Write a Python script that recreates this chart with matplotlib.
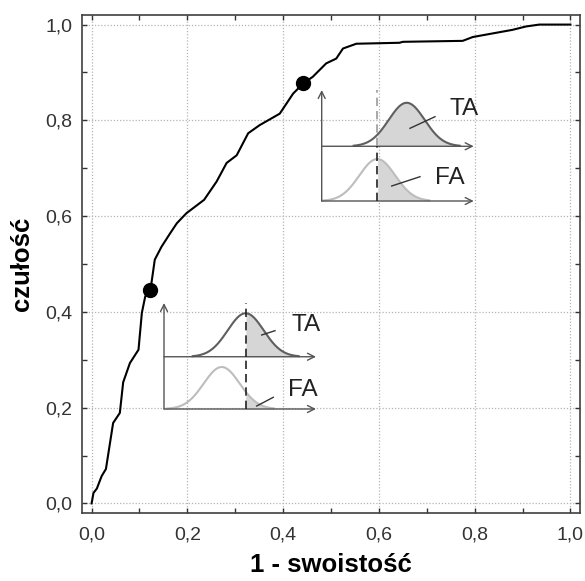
import numpy as np
import matplotlib
matplotlib.use("Agg")
import matplotlib.pyplot as plt
from matplotlib.ticker import MultipleLocator, FuncFormatter

plt.rcParams['font.family'] = ['Liberation Sans', 'DejaVu Sans']

# ROC curve (1 - specificity, sensitivity)
fpr = [0, 0.004, 0.011, 0.021, 0.030, 0.045, 0.059, 0.066, 0.080, 0.098, 0.105, 0.112,
       0.123, 0.132, 0.146, 0.164, 0.178, 0.198, 0.235, 0.261, 0.282, 0.303, 0.327,
       0.351, 0.393, 0.421, 0.442, 0.462, 0.490, 0.511, 0.525, 0.553, 0.643, 0.650,
       0.775, 0.796, 0.879, 0.907, 0.935, 1.0]
tpr = [0, 0.022, 0.031, 0.057, 0.072, 0.168, 0.189, 0.253, 0.293, 0.321, 0.398, 0.432,
       0.446, 0.509, 0.536, 0.564, 0.585, 0.606, 0.634, 0.672, 0.711, 0.727, 0.773,
       0.790, 0.814, 0.856, 0.877, 0.891, 0.919, 0.929, 0.950, 0.960, 0.962, 0.964,
       0.966, 0.974, 0.989, 0.996, 1.0, 1.0]

# highlighted operating points
point_fpr = [0.123, 0.442]
point_tpr = [0.446, 0.877]

ticks = [0.0, 0.2, 0.4, 0.6, 0.8, 1.0]
xlabel = "1 - swoistość"
ylabel = "czułość"

# schematic insets: threshold, TA mean, FA mean (inset units)
inset_threshold = [81.7, 55.6]
inset_ta_mean = [81.7, 85.0]
inset_fa_mean = [57.7, 55.6]
inset_labels = ["TA", "FA"]

W, H = 585, 581
fig = plt.figure(figsize=(W / 100, H / 100), dpi=100)
L, R, T, B = 82, 580, 15, 513
ax = fig.add_axes([L / W, 1 - B / H, (R - L) / W, (B - T) / H])

ax.plot(fpr, tpr, color='black', lw=1.5, zorder=3)
ax.plot(point_fpr, point_tpr, 'o', color='black', ms=10, zorder=4)

ax.set_xlim(-0.02, 1.02)
ax.set_ylim(-0.02, 1.02)
ax.set_xticks(ticks)
ax.set_yticks(ticks)
ax.xaxis.set_minor_locator(MultipleLocator(0.1))
ax.yaxis.set_minor_locator(MultipleLocator(0.1))
fmt = FuncFormatter(lambda v, p: f"{v:.1f}".replace('.', ','))
ax.xaxis.set_major_formatter(fmt)
ax.yaxis.set_major_formatter(fmt)
ax.grid(True, which='major', color='#b5b5b5', lw=0.9, ls=(0, (1, 1.5)))
ax.set_axisbelow(True)
ax.tick_params(which='both', direction='in', top=True, right=True, length=3.5,
               width=1, color='#333333', labelsize=14, labelcolor='#333333')
ax.tick_params(axis='x', pad=10)
ax.tick_params(axis='y', pad=7)
for s in ax.spines.values():
    s.set_color('#404040')
    s.set_linewidth(1.2)

xl = ax.set_xlabel(xlabel, fontsize=18.5, fontweight='bold')
yl = ax.set_ylabel(ylabel, fontsize=18.5, fontweight='bold')
ax.xaxis.set_label_coords(0.5, (B - 565) / (B - T))
yl.set_va('center')
ax.yaxis.set_label_coords((22 - L) / (R - L), 0.5)
xl.set_va('center')

# inset boxes in pixel space: left, bottom, width, height
boxes = [(164, 409, 156, 106), (321.7, 201, 156, 111)]
ta_text_pos = [(127, 84), (128.3, 92.2)]
fa_text_pos = [(124, 19.5), (113.3, 23.5)]
ta_ptr = [((111, 78.3), (97.7, 74)), ((113.3, 84.3), (88.3, 72.7))]
fa_ptr = [((109.3, 11.7), (92.7, 3)), ((98.3, 24.3), (70, 15))]
upper_dash_color = ['#222222', '#999999']

sigma = 18.0
for i, (bx, by, bw, bh) in enumerate(boxes):
    iax = fig.add_axes([bx / W, 1 - by / H, bw / W, bh / H])
    iax.set_xlim(0, bw)
    iax.set_ylim(0, bh)
    iax.axis('off')
    base = bh * 0.493
    thr = inset_threshold[i]
    arrow_kw = dict(arrowstyle='->,head_length=0.5,head_width=0.25', color='#555555', lw=1,
                    shrinkA=0, shrinkB=0)
    iax.annotate('', xy=(0, bh), xytext=(0, 0), arrowprops=arrow_kw, annotation_clip=False)
    iax.annotate('', xy=(152, base), xytext=(0, base), arrowprops=arrow_kw, annotation_clip=False)
    iax.annotate('', xy=(152, 0), xytext=(0, 0), arrowprops=arrow_kw, annotation_clip=False)

    # TA distribution
    mu = inset_ta_mean[i]
    xs = np.linspace(mu - 53, mu + 53, 200)
    ys = base + 43.5 * np.exp(-0.5 * ((xs - mu) / sigma) ** 2)
    m = xs >= thr
    iax.fill_between(xs[m], base, ys[m], color='#d6d6d6', lw=0, zorder=1)
    iax.plot(xs, ys, color='#5f5f5f', lw=1.5, zorder=2, clip_on=False)

    # FA distribution
    mu = inset_fa_mean[i]
    xs = np.linspace(mu - 55, mu + 52, 200)
    ys = 42 * np.exp(-0.5 * ((xs - mu) / sigma) ** 2)
    m = xs >= thr
    iax.fill_between(xs[m], 0, ys[m], color='#d6d6d6', lw=0, zorder=1)
    iax.plot(xs, ys, color='#bdbdbd', lw=1.5, zorder=2, clip_on=False)

    # threshold
    iax.plot([thr, thr], [0, base], color='#222222', lw=1.2, ls=(0, (5, 3)), zorder=3, clip_on=False)
    iax.plot([thr, thr], [base, bh], color=upper_dash_color[i], lw=1.2, ls=(0, (5, 3)), zorder=3, clip_on=False)

    iax.text(*ta_text_pos[i], inset_labels[0], fontsize=17.5, color='#222222', va='center', ha='left')
    iax.text(*fa_text_pos[i], inset_labels[1], fontsize=17.5, color='#222222', va='center', ha='left')
    for (p0, p1) in (ta_ptr[i], fa_ptr[i]):
        iax.plot([p0[0], p1[0]], [p0[1], p1[1]], color='#333333', lw=1, zorder=4, clip_on=False)

fig.savefig('out.png', dpi=100)
